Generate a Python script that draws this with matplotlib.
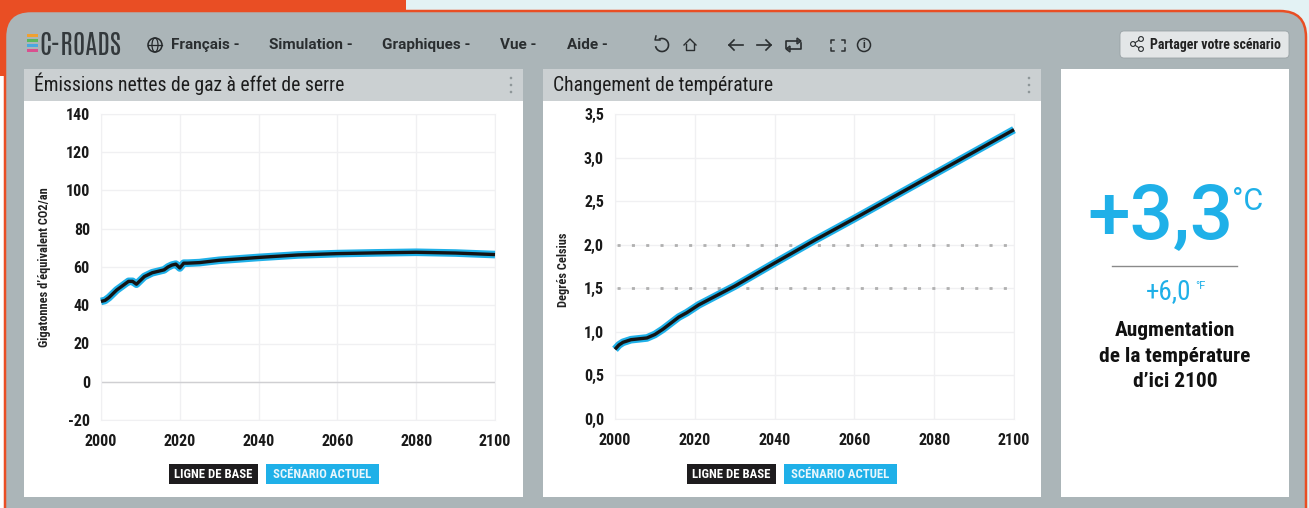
import matplotlib
matplotlib.use("Agg")
import matplotlib.pyplot as plt
from matplotlib.patches import Rectangle, FancyBboxPatch, Circle, Ellipse, Polygon, Arc

NARROW = ["Roboto Condensed", "Roboto", "DejaVu Sans"]
ROUND = ["Roboto", "DejaVu Sans"]
plt.rcParams["font.family"] = NARROW

ORANGE = "#e94e24"
CHROME = "#abb5b8"
BLUE = "#1fb0e8"
DARK = "#1e1c1e"
GRID = "#f0f0f2"

# emissions panel
em_years = [2000, 2001, 2002, 2003, 2004, 2005, 2006, 2007, 2008, 2009, 2010, 2011, 2012, 2013, 2014,
            2015, 2016, 2017, 2018, 2019, 2020, 2021, 2022, 2025, 2030, 2040, 2050, 2060, 2070, 2080, 2090, 2100]
em_values = [42, 42.5, 44, 46, 48, 49.5, 51, 52.5, 52.5, 51, 53, 55, 56, 57, 57.5,
             58, 58.5, 60, 61, 61.5, 59.5, 62, 62, 62.3, 63.5, 65, 66.3, 67, 67.4, 67.7, 67.3, 66.5]
em_ticks = [-20, 0, 20, 40, 60, 80, 100, 120, 140]

# temperature panel
temp_years = [2000, 2001, 2002, 2004, 2006, 2008, 2010, 2012, 2014, 2016, 2018, 2021,
              2030, 2040, 2050, 2060, 2080, 2100]
temp_values = [0.80, 0.85, 0.88, 0.91, 0.92, 0.93, 0.97, 1.03, 1.10, 1.17, 1.22, 1.31,
               1.525, 1.79, 2.05, 2.30, 2.81, 3.32]
temp_ticks = [0.0, 0.5, 1.0, 1.5, 2.0, 2.5, 3.0, 3.5]
temp_targets = [1.5, 2.0]

x_ticks = [2000, 2020, 2040, 2060, 2080, 2100]
menu_labels = ["Français -", "Simulation -", "Graphiques -", "Vue -", "Aide -"]
menu_x = [171, 269, 382, 500, 567]
legend_labels = ["LIGNE DE BASE", "SCÉNARIO ACTUEL"]

W, H = 1309, 508
fig = plt.figure(figsize=(W / 100, H / 100), dpi=100, facecolor="#e3f2f4")

# whole figure in pixel coordinates for the app chrome
bg = fig.add_axes([0, 0, 1, 1], zorder=0)
bg.set_xlim(0, W)
bg.set_ylim(H, 0)
bg.axis("off")

bg.add_patch(Rectangle((0, 0), 406, 12, fc=ORANGE, ec="none"))
bg.add_patch(Rectangle((0, 0), 24, 76, fc=ORANGE, ec="none"))
bg.add_patch(Rectangle((0, 76), 4, 432, fc="white", ec="none"))
bg.add_patch(FancyBboxPatch((5, 11), 1301, 540, boxstyle="round,pad=0,rounding_size=26",
                            fc=CHROME, ec=ORANGE, lw=1.8))


def panel(x0, x1, title=None):
    bg.add_patch(Rectangle((x0, 69), x1 - x0, 428, fc="white", ec="none"))
    if title:
        bg.add_patch(Rectangle((x0, 69), x1 - x0, 32, fc="#cbd0d2", ec="none"))
        bg.text(x0 + 10, 91, title, fontsize=14.1, color="#1c1c1c", va="baseline", ha="left")
        for dy in (-7, 0, 7):
            bg.add_patch(Circle((x1 - 12, 85 + dy), 1.3, fc="#8f9799", ec="none"))


def legend(x0):
    bg.add_patch(Rectangle((x0, 464), 89, 20, fc=DARK, ec="none"))
    bg.add_patch(Rectangle((x0 + 97, 464), 113, 20, fc=BLUE, ec="none"))
    bg.text(x0 + 44.5, 474, legend_labels[0], color="white", fontsize=9.2, fontweight="bold", ha="center", va="center")
    bg.text(x0 + 153.5, 474, legend_labels[1], color="#e8f6fc", fontsize=9.2, fontweight="bold", ha="center", va="center")


panel(24, 523, "Émissions nettes de gaz à effet de serre")
panel(543, 1041, "Changement de température")
panel(1061, 1289)
legend(169)
legend(687)

# logo
for y, c in zip([35, 40, 45, 50], ["#f0a030", "#5cb85c", "#4aa8e0", "#d9508f"]):
    bg.add_patch(Rectangle((27, y - 1.5), 11, 3, fc=c, ec="none"))
bg.text(39, 45, "C-ROADS", fontsize=19.5, family=["Antonio"] + NARROW, color="#33393c", va="center", ha="left")

# menu
bg.add_patch(Circle((155, 45), 7, fc="none", ec="#25292b", lw=1.1))
bg.add_patch(Ellipse((155, 45), 6, 14, fc="none", ec="#25292b", lw=0.9))
bg.plot([148, 162], [45, 45], color="#25292b", lw=0.9)
for label, x in zip(menu_labels, menu_x):
    bg.text(x, 49, label, fontsize=11, family=ROUND, fontweight="bold", color="#2a2e30", va="baseline", ha="left")

# toolbar icons
ICON = "#2a2e30"
bg.add_patch(Arc((662, 45), 13, 13, theta1=-120, theta2=170, ec=ICON, lw=1.2))
bg.plot([656, 655, 660], [36, 40, 40], color=ICON, lw=1.1)
bg.plot([684, 690, 696], [45, 39, 45], color=ICON, lw=1)
bg.plot([686, 686, 694, 694], [44, 50, 50, 44], color=ICON, lw=1)
for x0, x1, tip in [(743, 729, 1), (757, 771, -1)]:
    bg.plot([x0, x1], [45, 45], color=ICON, lw=1.2)
    bg.plot([x1 + 5 * tip, x1, x1 + 5 * tip], [40, 45, 50], color=ICON, lw=1.2)
bg.plot([786, 786, 800], [48, 41, 41], color=ICON, lw=1.2)
bg.plot([801, 801, 787], [43, 49, 49], color=ICON, lw=1.2)
bg.add_patch(Polygon([[797, 38], [801, 41], [797, 44]], fc="none", ec=ICON, lw=1))
bg.add_patch(Polygon([[790, 46], [786, 49], [790, 52]], fc="none", ec=ICON, lw=1))
for sx, sy in [(831, 40), (845, 40), (831, 51), (845, 51)]:
    xin = sx + (3 if sx == 831 else -3)
    yin = sy + (3 if sy == 40 else -3)
    bg.plot([xin, sx, sx], [sy, sy, yin], color=ICON, lw=1.1)
bg.add_patch(Circle((864, 45), 6.5, fc="none", ec=ICON, lw=1.1))
bg.text(864, 45.5, "i", fontsize=8, fontweight="bold", color=ICON, ha="center", va="center")

# share button
bg.add_patch(FancyBboxPatch((1120, 31), 169, 27, boxstyle="round,pad=0,rounding_size=4", fc="#e3e6e7", ec="#9aa3a6", lw=0.6))
bg.plot([1141, 1133, 1141], [39, 44, 49], color=ICON, lw=0.8)
for cx, cy in [(1141, 39), (1133, 44), (1141, 49)]:
    bg.add_patch(Circle((cx, cy), 2.4, fc="#e3e6e7", ec=ICON, lw=0.8, zorder=5))
bg.text(1150, 44.5, "Partager votre scénario", fontsize=10, fontweight="bold", color="#222", va="center", ha="left")

# big number panel
bg.text(1087, 218, "+3,3", fontsize=55, family=ROUND, fontweight="medium", color=BLUE, ha="left", va="center")
bg.text(1248, 201, "°C", fontsize=22, family=ROUND, color=BLUE, ha="center", va="center")
bg.plot([1112, 1237], [266, 266], color="#8a8a8a", lw=1)
bg.text(1169, 292, "+6,0", fontsize=19.5, family=NARROW, color=BLUE, ha="center", va="center")
bg.text(1200, 286, "°F", fontsize=8, family=ROUND, color=BLUE, ha="center", va="center")
for y, line in zip([336, 362, 387], ["Augmentation", "de la température", "d’ici 2100"]):
    bg.text(1175, y, line, fontsize=15.4, fontweight="bold", color="#111", ha="center", va="baseline")

ylabel_offset = {"Gigatonnes d’équivalent CO2/an": 0, "Degrés Celsius": 3}


def chart(px0, px1, py_top, py_bot, years, values, ylim, yticks, ylabel, ylabel_x):
    ax = fig.add_axes([px0 / W, 1 - py_bot / H, (px1 - px0) / W, (py_bot - py_top) / H], zorder=2)
    ax.patch.set_alpha(0)
    ax.set_xlim(2000, 2100)
    ax.set_ylim(*ylim)
    ax.set_xticks(x_ticks)
    ax.set_yticks(yticks)
    ax.tick_params(length=0, labelsize=11.5, labelcolor="#1a1a1a")
    ax.tick_params(axis="x", pad=10)
    ax.tick_params(axis="y", pad=8)
    for lab in ax.get_xticklabels():
        lab.set_fontweight("bold")
    ax.grid(color=GRID, lw=1)
    ax.set_axisbelow(True)
    for s in ax.spines.values():
        s.set_color(GRID)
    ax.plot(years, values, color=BLUE, lw=5.5, solid_capstyle="butt", clip_on=False, zorder=4)
    ax.plot(years, values, color="#141414", lw=2.4, solid_capstyle="butt", clip_on=False, zorder=5)
    bg.text(ylabel_x, (py_top + py_bot) / 2 + ylabel_offset[ylabel], ylabel, rotation=90, fontsize=8.9, fontweight="bold",
            color="#222", ha="center", va="center")
    return ax


ax1 = chart(101, 495, 114, 420, em_years, em_values, (-20, 140), em_ticks, "Gigatonnes d’équivalent CO2/an", 45)
ax1.axhline(0, color="#cfcfd2", lw=1, zorder=1)
ax1.set_yticklabels([str(v) for v in em_ticks], fontweight="bold")

ax2 = chart(615, 1014, 114, 419, temp_years, temp_values, (0, 3.5), temp_ticks, "Degrés Celsius", 563)
ax2.set_yticklabels([f"{v:.1f}".replace(".", ",") for v in temp_ticks], fontweight="bold")
for t in temp_targets:
    ax2.axhline(t, color="#b0b0b0", lw=2.0, linestyle=(4.4, (1.1, 4.05)), zorder=3)

fig.savefig("out.png", dpi=100, facecolor=fig.get_facecolor())
plt.close(fig)
